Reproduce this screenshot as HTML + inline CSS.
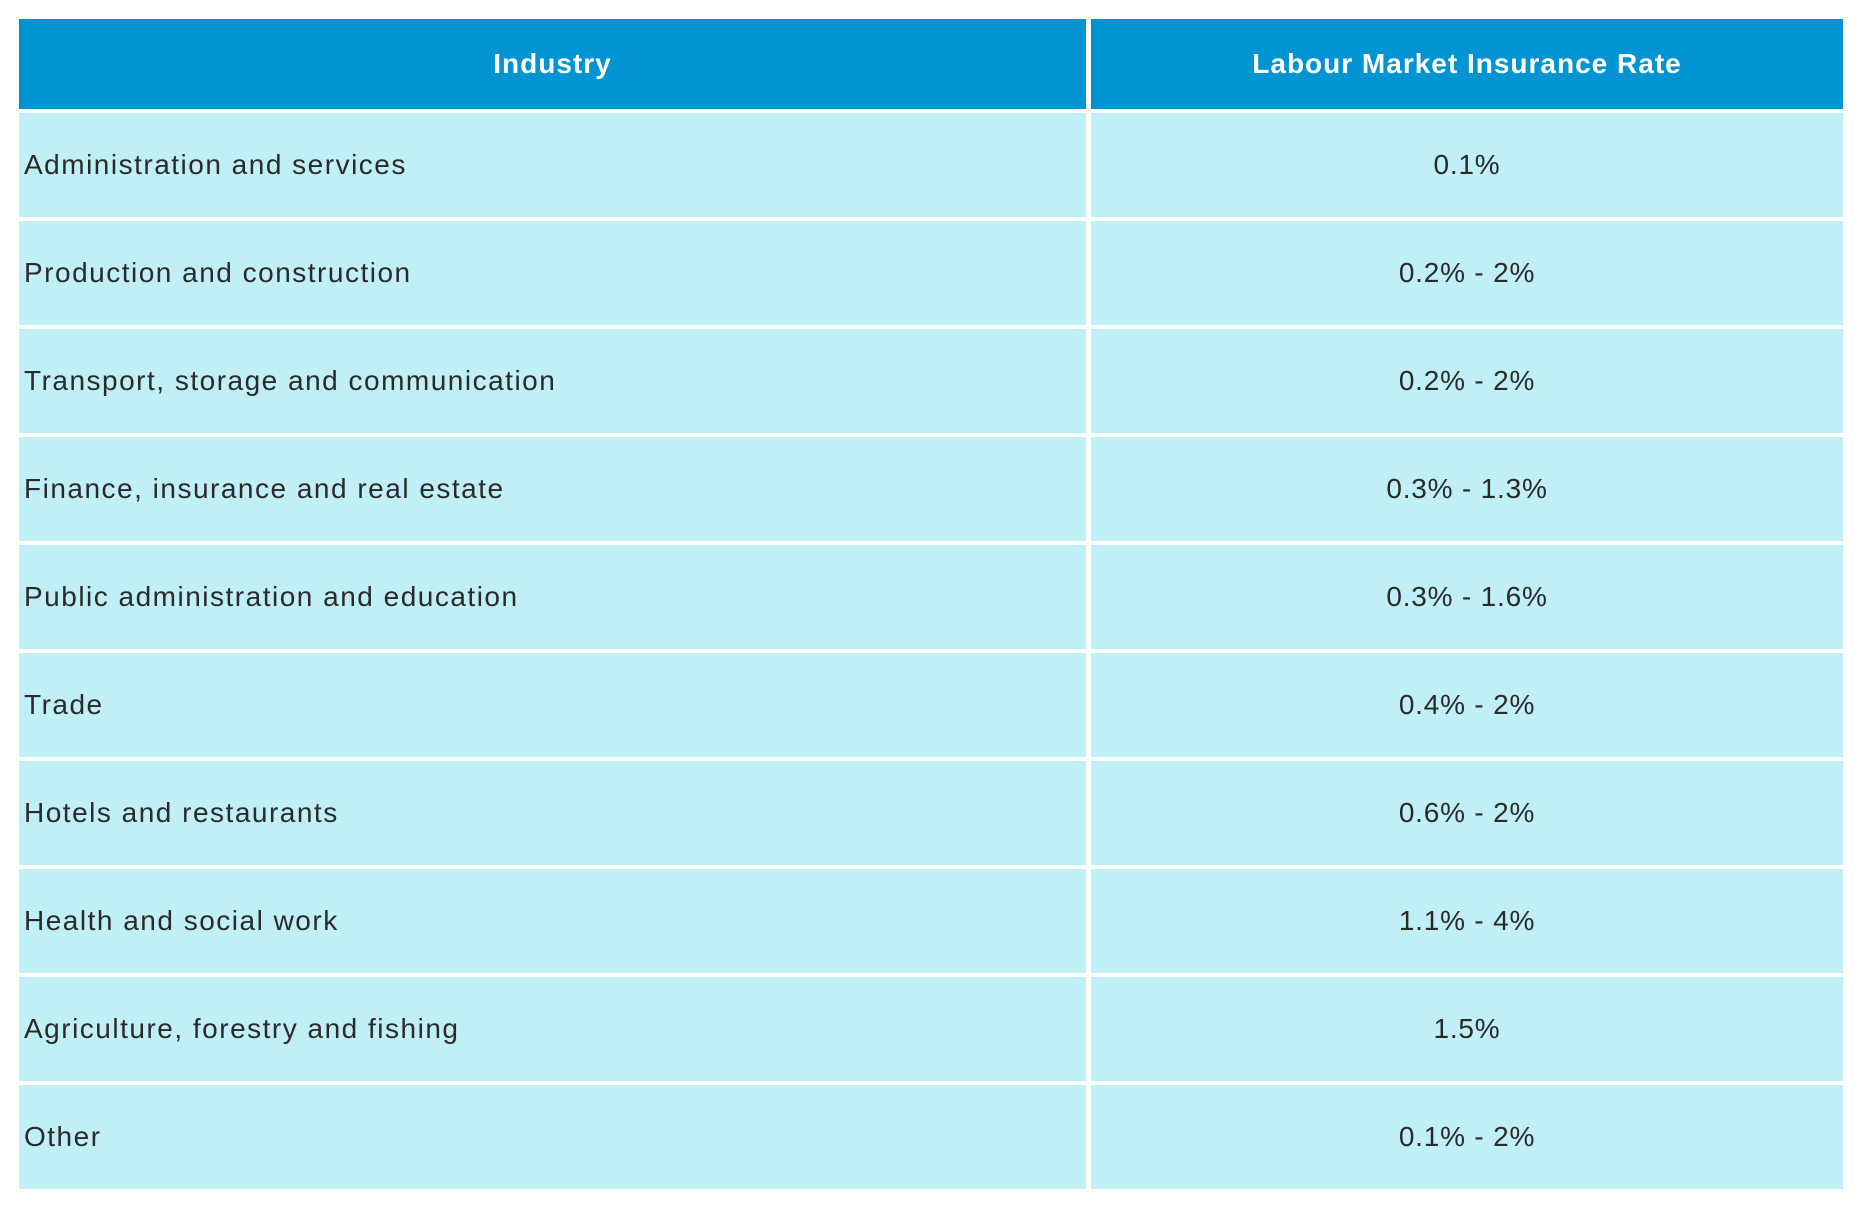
<!DOCTYPE html>
<html><head><meta charset="utf-8"><style>
html,body{margin:0;padding:0;background:#fff;width:1858px;height:1206px;overflow:hidden}
.t{position:absolute;left:19px;top:19px;width:1824px}
.r{display:flex;height:104px;margin-bottom:4px}
.h{height:90px}
.c1{width:1067px;margin-right:5px;background:#c0eff6;display:flex;align-items:center;padding-left:5px;box-sizing:border-box}
.c2{flex:1;background:#c0eff6;display:flex;align-items:center;justify-content:center}
.r div{font-family:"Liberation Sans",sans-serif;font-size:28px;letter-spacing:0.8px;color:#2a2a2a}
.r div.c1{letter-spacing:1.5px}
.h div,.h div.c1{background:#0094d3;color:#fff;font-weight:bold;justify-content:center;padding-left:0;letter-spacing:1px}
</style></head><body><div class="t">
<div class="r h"><div class="c1">Industry</div><div class="c2">Labour Market Insurance Rate</div></div>
<div class="r"><div class="c1">Administration and services</div><div class="c2">0.1%</div></div>
<div class="r"><div class="c1">Production and construction</div><div class="c2">0.2% - 2%</div></div>
<div class="r"><div class="c1">Transport, storage and communication</div><div class="c2">0.2% - 2%</div></div>
<div class="r"><div class="c1">Finance, insurance and real estate</div><div class="c2">0.3% - 1.3%</div></div>
<div class="r"><div class="c1">Public administration and education</div><div class="c2">0.3% - 1.6%</div></div>
<div class="r"><div class="c1">Trade</div><div class="c2">0.4% - 2%</div></div>
<div class="r"><div class="c1">Hotels and restaurants</div><div class="c2">0.6% - 2%</div></div>
<div class="r"><div class="c1">Health and social work</div><div class="c2">1.1% - 4%</div></div>
<div class="r"><div class="c1">Agriculture, forestry and fishing</div><div class="c2">1.5%</div></div>
<div class="r"><div class="c1">Other</div><div class="c2">0.1% - 2%</div></div>
</div></body></html>
